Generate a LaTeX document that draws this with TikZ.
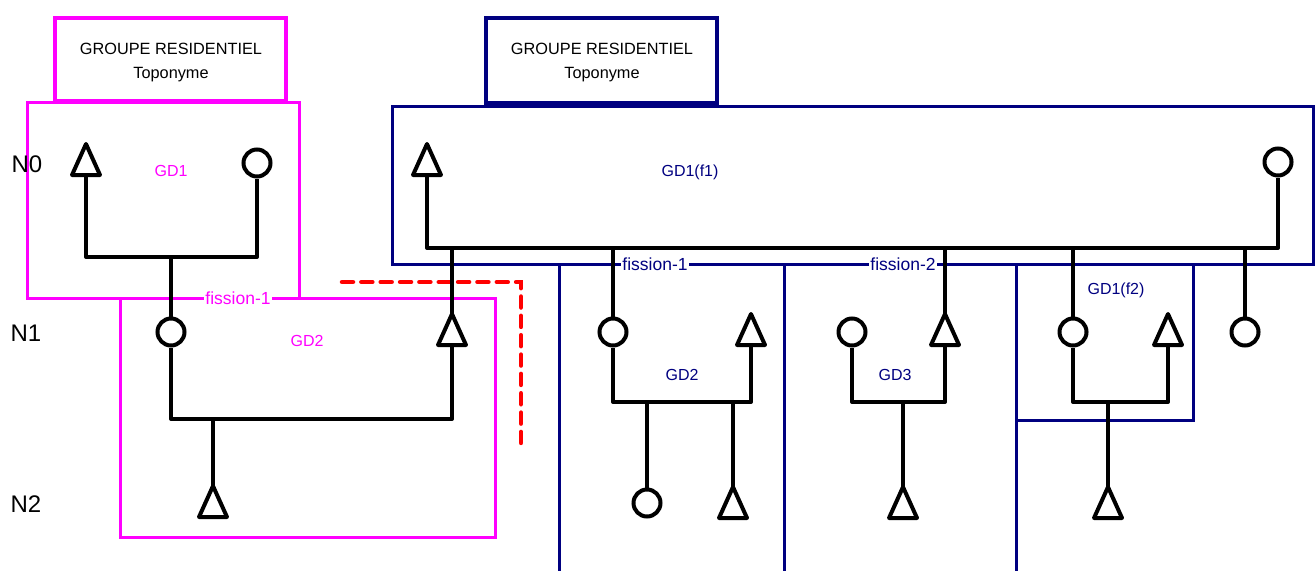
\documentclass[tikz,border=0pt]{standalone}
\usepackage{fontspec}
\setmainfont{Liberation Sans}
\definecolor{mag}{HTML}{FF00FF}
\definecolor{nav}{HTML}{000080}
\definecolor{redd}{HTML}{FF0000}
\tikzset{
  wire/.style={line width=4pt, draw=black, line join=round},
  dot/.style={circle, draw=black, line width=4pt, minimum size=27pt, inner sep=0pt, fill=white},
  tribox/.style={draw=black, line width=4pt, line join=round, fill=white},
  magthin/.style={draw=mag, line width=3pt},
  magthick/.style={draw=mag, line width=4.5pt},
  navthin/.style={draw=nav, line width=3pt},
  navthick/.style={draw=nav, line width=4.5pt},
  title/.style={align=center, font=\fontsize{16.3}{24}\selectfont, text=black},
  lvl/.style={font=\fontsize{24}{26}\selectfont, text=black},
  gdmag/.style={font=\fontsize{16}{18}\selectfont, text=mag},
  gdnav/.style={font=\fontsize{16}{18}\selectfont, text=nav},
  fismag/.style={font=\fontsize{17.5}{18}\selectfont, text=mag, fill=white, inner sep=1pt},
  fisnav/.style={font=\fontsize{17.5}{18}\selectfont, text=nav, fill=white, inner sep=1pt},
  redline/.style={draw=redd, line width=4.5pt, line cap=round, dash pattern=on 11pt off 8.35pt},
}
\newcommand\mytri[3]{%
  \coordinate (#1-a) at (#2,#3);
  \coordinate (#1-b) at (#2,{#3+31});
  \draw[tribox] ({#2-14},{#3+31}) -- (#2,#3) -- ({#2+14},{#3+31}) -- cycle;}
\begin{document}
\begin{tikzpicture}[x=1pt,y=-1pt]
\useasboundingbox (0,0) rectangle (1316,570);

% ---------- magenta frames ----------
\draw[magthin] (27,102) rectangle (299,298);
\draw[magthin] (120,298) rectangle (495,537);
\draw[magthick] (55,18) rectangle (286,101);
\node[title] (mtitle) at (171,62) {GROUPE RESIDENTIEL\\Toponyme};

% ---------- navy frames ----------
\draw[navthin] (392,106) rectangle (1313,264);
\draw[navthin] (559,264) -- (559,572);
\draw[navthin] (784,264) -- (784,572);
\draw[navthin] (1016,264) -- (1016,572);
\draw[navthin] (1016,264) rectangle (1193,420);
\draw[navthick] (486,18) rectangle (717,103);
\node[title] (ntitle) at (602,62) {GROUPE RESIDENTIEL\\Toponyme};

% ---------- red dashed ----------
\coordinate (r1) at (342,282);
\coordinate (r2) at (521,443);
\draw[redline] (r1) -| (r2);

% ---------- level labels ----------
\node[lvl] (n0) at (27,164) {N0};
\node[lvl] (n1) at (26,333) {N1};
\node[lvl] (n2) at (26,504) {N2};

% ---------- coordinates ----------
\coordinate (j1) at (171,257);
\coordinate (j2) at (213,419);
\coordinate (busL) at (427,248);
\coordinate (busR) at (1278,248);
\coordinate (b452) at (452,248);
\coordinate (b613) at (613,248);
\coordinate (b945) at (945,248);
\coordinate (b1073) at (1073,248);
\coordinate (b1245) at (1245,248);
\coordinate (j3) at (647,402);
\coordinate (j3b) at (733,402);
\coordinate (j4) at (903,402);
\coordinate (j5) at (1108,402);

% ---------- symbols (nodes) ----------
\node[dot] (ca) at (257,163) {};
\node[dot] (cb) at (171,332) {};
\node[dot] (ce) at (1278,162) {};
\node[dot] (cf) at (613,332) {};
\node[dot] (ch) at (647,503) {};
\node[dot] (cj) at (852,332) {};
\node[dot] (cm) at (1073,332) {};
\node[dot] (cp) at (1245,332) {};

% ---------- wires ----------
\draw[wire] (86,175) |- (j1) -| (ca.south);
\draw[wire] (j1) -- (cb.north);
\draw[wire] (cb.south) |- (j2) -| (452,345);
\draw[wire] (j2) -- (213,488);
\draw[wire] (427,175) -- (busL) -- (busR) -- (ce.south);
\draw[wire] (b452) -- (452,316);
\draw[wire] (b613) -- (cf.north);
\draw[wire] (cf.south) |- (j3) -- (j3b) -| (751,345);
\draw[wire] (j3) -- (ch.north);
\draw[wire] (j3b) -- (733,488);
\draw[wire] (cj.south) |- (j4) -| (945,345);
\draw[wire] (b945) -- (945,316);
\draw[wire] (j4) -- (903,488);
\draw[wire] (b1073) -- (cm.north);
\draw[wire] (cm.south) |- (j5) -| (1168,345);
\draw[wire] (j5) -- (1108,488);
\draw[wire] (b1245) -- (cp.north);

% ---------- triangles ----------
\mytri{ta}{86}{144}
\mytri{tb}{452}{314}
\mytri{tc}{213}{486}
\mytri{td}{427}{144}
\mytri{tg}{751}{314}
\mytri{ti}{733}{487}
\mytri{tk}{945}{314}
\mytri{tl}{903}{487}
\mytri{tn}{1168}{314}
\mytri{to}{1108}{487}

% ---------- labels ----------
\node[gdmag] (gd1) at (171,171) {GD1};
\node[gdmag] (gd2m) at (307,341) {GD2};
\node[fismag] (fm1) at (238,298) {fission-1};
\node[gdnav] (gdf1) at (690,172) {GD1(f1)};
\node[gdnav] (gd2n) at (682,375) {GD2};
\node[gdnav] (gd3n) at (895,375) {GD3};
\node[gdnav] (gdf2) at (1116,290) {GD1(f2)};
\node[fisnav] (fn1) at (655,264) {fission-1};
\node[fisnav] (fn2) at (903,264) {fission-2};
\end{tikzpicture}
\end{document}
